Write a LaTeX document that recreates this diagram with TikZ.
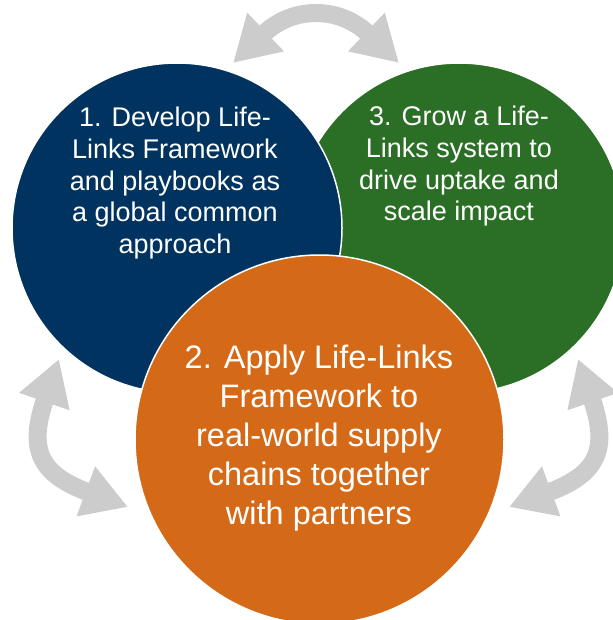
\documentclass[tikz,border=0pt]{standalone}
\usepackage{fontspec}
\setmainfont{Liberation Sans}
\usetikzlibrary{arrows.meta}
\definecolor{llblue}{RGB}{0,51,96}
\definecolor{llgreen}{RGB}{43,110,37}
\definecolor{llorange}{RGB}{212,106,24}
\definecolor{llgrey}{RGB}{204,204,204}
\begin{document}
\begin{tikzpicture}[x=1pt, y=-1pt,
    bubble/.style={circle, draw=white, line width=1.5pt, inner sep=0pt, minimum size=#1},
    bubbletext/.style={text=white, align=center, inner sep=0pt, anchor=north},
    cyclearrow/.style={llgrey, line width=18pt,
      {Triangle[length=45pt,width=50pt]}-{Triangle[length=45pt,width=50pt]}}]
\useasboundingbox (0,0) rectangle (612,620);

\node[bubble=330pt, fill=llgreen] (grow) at (459,228) {};
\node[bubble=330pt, fill=llblue] (develop) at (177,228) {};
\node[bubble=369pt, fill=llorange] (apply) at (319.5,439.5) {};

\node[bubbletext, font=\fontsize{27}{31.7}\selectfont] (developtext) at (175,107)
  {1. Develop Life-\\Links Framework\\and playbooks as\\a global common\\approach};
\node[bubbletext, font=\fontsize{27}{31.7}\selectfont] (growtext) at (459,106)
  {3. Grow a Life-\\Links system to\\drive uptake and\\scale impact};
\node[bubbletext, font=\fontsize{32.5}{39}\selectfont] (applytext) at (319,345)
  {2. Apply Life-Links\\Framework to\\real-world supply\\chains together\\with partners};

\coordinate (top-l) at (233,63);
\coordinate (top-r) at (399,63);
\coordinate (left-u) at (59,359);
\coordinate (left-d) at (128,507);
\coordinate (right-u) at (578,359);
\coordinate (right-d) at (509,507);

\draw[cyclearrow] (top-l) .. controls +(60,-57) and +(-60,-57) .. (top-r);
\draw[cyclearrow] (left-u) .. controls +(-31,90) and +(-89,-33) .. (left-d);
\draw[cyclearrow] (right-u) .. controls +(31,90) and +(89,-33) .. (right-d);
\end{tikzpicture}
\end{document}
